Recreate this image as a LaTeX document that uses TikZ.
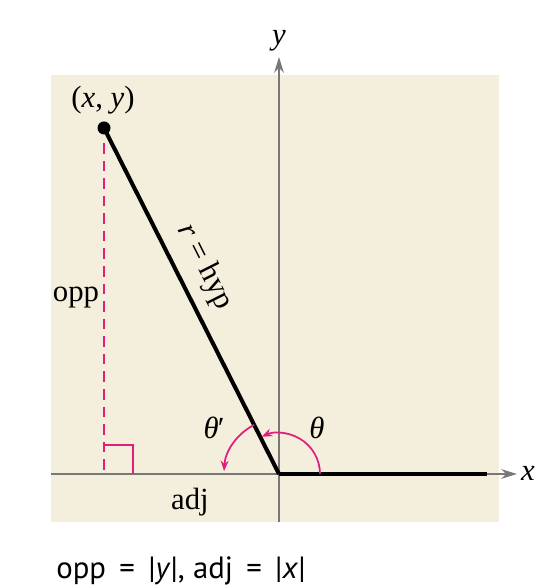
\documentclass[tikz,border=0pt]{standalone}
\usepackage{fontspec}
\setmainfont{Liberation Serif}
\newfontfamily\captionfont{PT Sans}
\usetikzlibrary{arrows.meta, calc}

\definecolor{paper}{RGB}{244,239,220}
\definecolor{axisgray}{RGB}{120,120,120}
\definecolor{angmag}{RGB}{226,30,125}

\begin{document}
\begin{tikzpicture}[
    x=0.02cm, y=0.02cm,
    % Styles
    axis/.style={
        draw=axisgray, line width=1pt,
        -{Stealth[length=9pt, width=5.5pt]},
    },
    ray/.style={
        draw=black, line width=2.3pt,
    },
    helper/.style={
        draw=angmag, line width=1pt,
    },
    angarrow/.style={
        draw=angmag, line width=1pt,
        -{Stealth[length=6pt, width=4.5pt]},
    },
    lbl/.style={
        font=\fontsize{17.5}{20}\selectfont, text=black, inner sep=1pt,
    },
]

% === Frame ===
\useasboundingbox (0,0) rectangle (556,588);
\fill[paper] (51,66) rectangle (499,513);

% === Points ===
\coordinate (O)    at (279,114);
\coordinate (P)    at (104,460);
\coordinate (xl)   at (51,114);
\coordinate (xr)   at (517,114);
\coordinate (yb)   at (279,66);
\coordinate (yt)   at (279,531);
\coordinate (ray0) at (487,114);
\coordinate (foot) at (104,114);
\coordinate (dtop) at (104,445);

% === Axes ===
\draw[axis] (xl) -- (xr);
\draw[axis] (yb) -- (yt);
\node[lbl, font=\fontsize{17.5}{20}\selectfont\itshape] (xlab) at (528,115) {x};
\node[lbl, font=\fontsize{17.5}{20}\selectfont\itshape] (ylab) at (279,547) {y};

% === Reference triangle ===
\draw[helper, dash pattern=on 6pt off 4pt] (dtop) -- (foot);
\draw[helper] ($(foot)+(0,29)$) -- ++(29,0) -- ++(0,-29);

% === Terminal side ===
\draw[ray] (O) -- (P);
\draw[ray] (O) -- (ray0);
\fill (P) circle (6.5);
\node[lbl, rotate=-63.2] (hyp) at (205,321) {\textit{r} = hyp};

% === Angles ===
\draw[angarrow] ($(O)+(41,0)$) arc (0:115:41);
\draw[angarrow] ($(O)+(117:55)$) arc (117:177:55);

% === Labels ===
\node[lbl] (pt)  at (103,488) {(\textit{x}, \textit{y})};
\node[lbl] (opp) at (76,290) {opp};
\node[lbl] (adj) at (190,86)  {adj};
\node[lbl] (th)  at (317,160) {\textit{θ}};
\node[lbl] (thp) at (214,160) {\textit{θ}\kern-0.5pt′};

% === Caption ===
\node[font=\captionfont\fontsize{17.5}{21}\selectfont, anchor=west, inner sep=0pt]
    (cap) at (56,17)
    {opp\,\ =\ \,|\textit{y}|, adj\,\ =\ \,|\textit{x}|};

\end{tikzpicture}
\end{document}
